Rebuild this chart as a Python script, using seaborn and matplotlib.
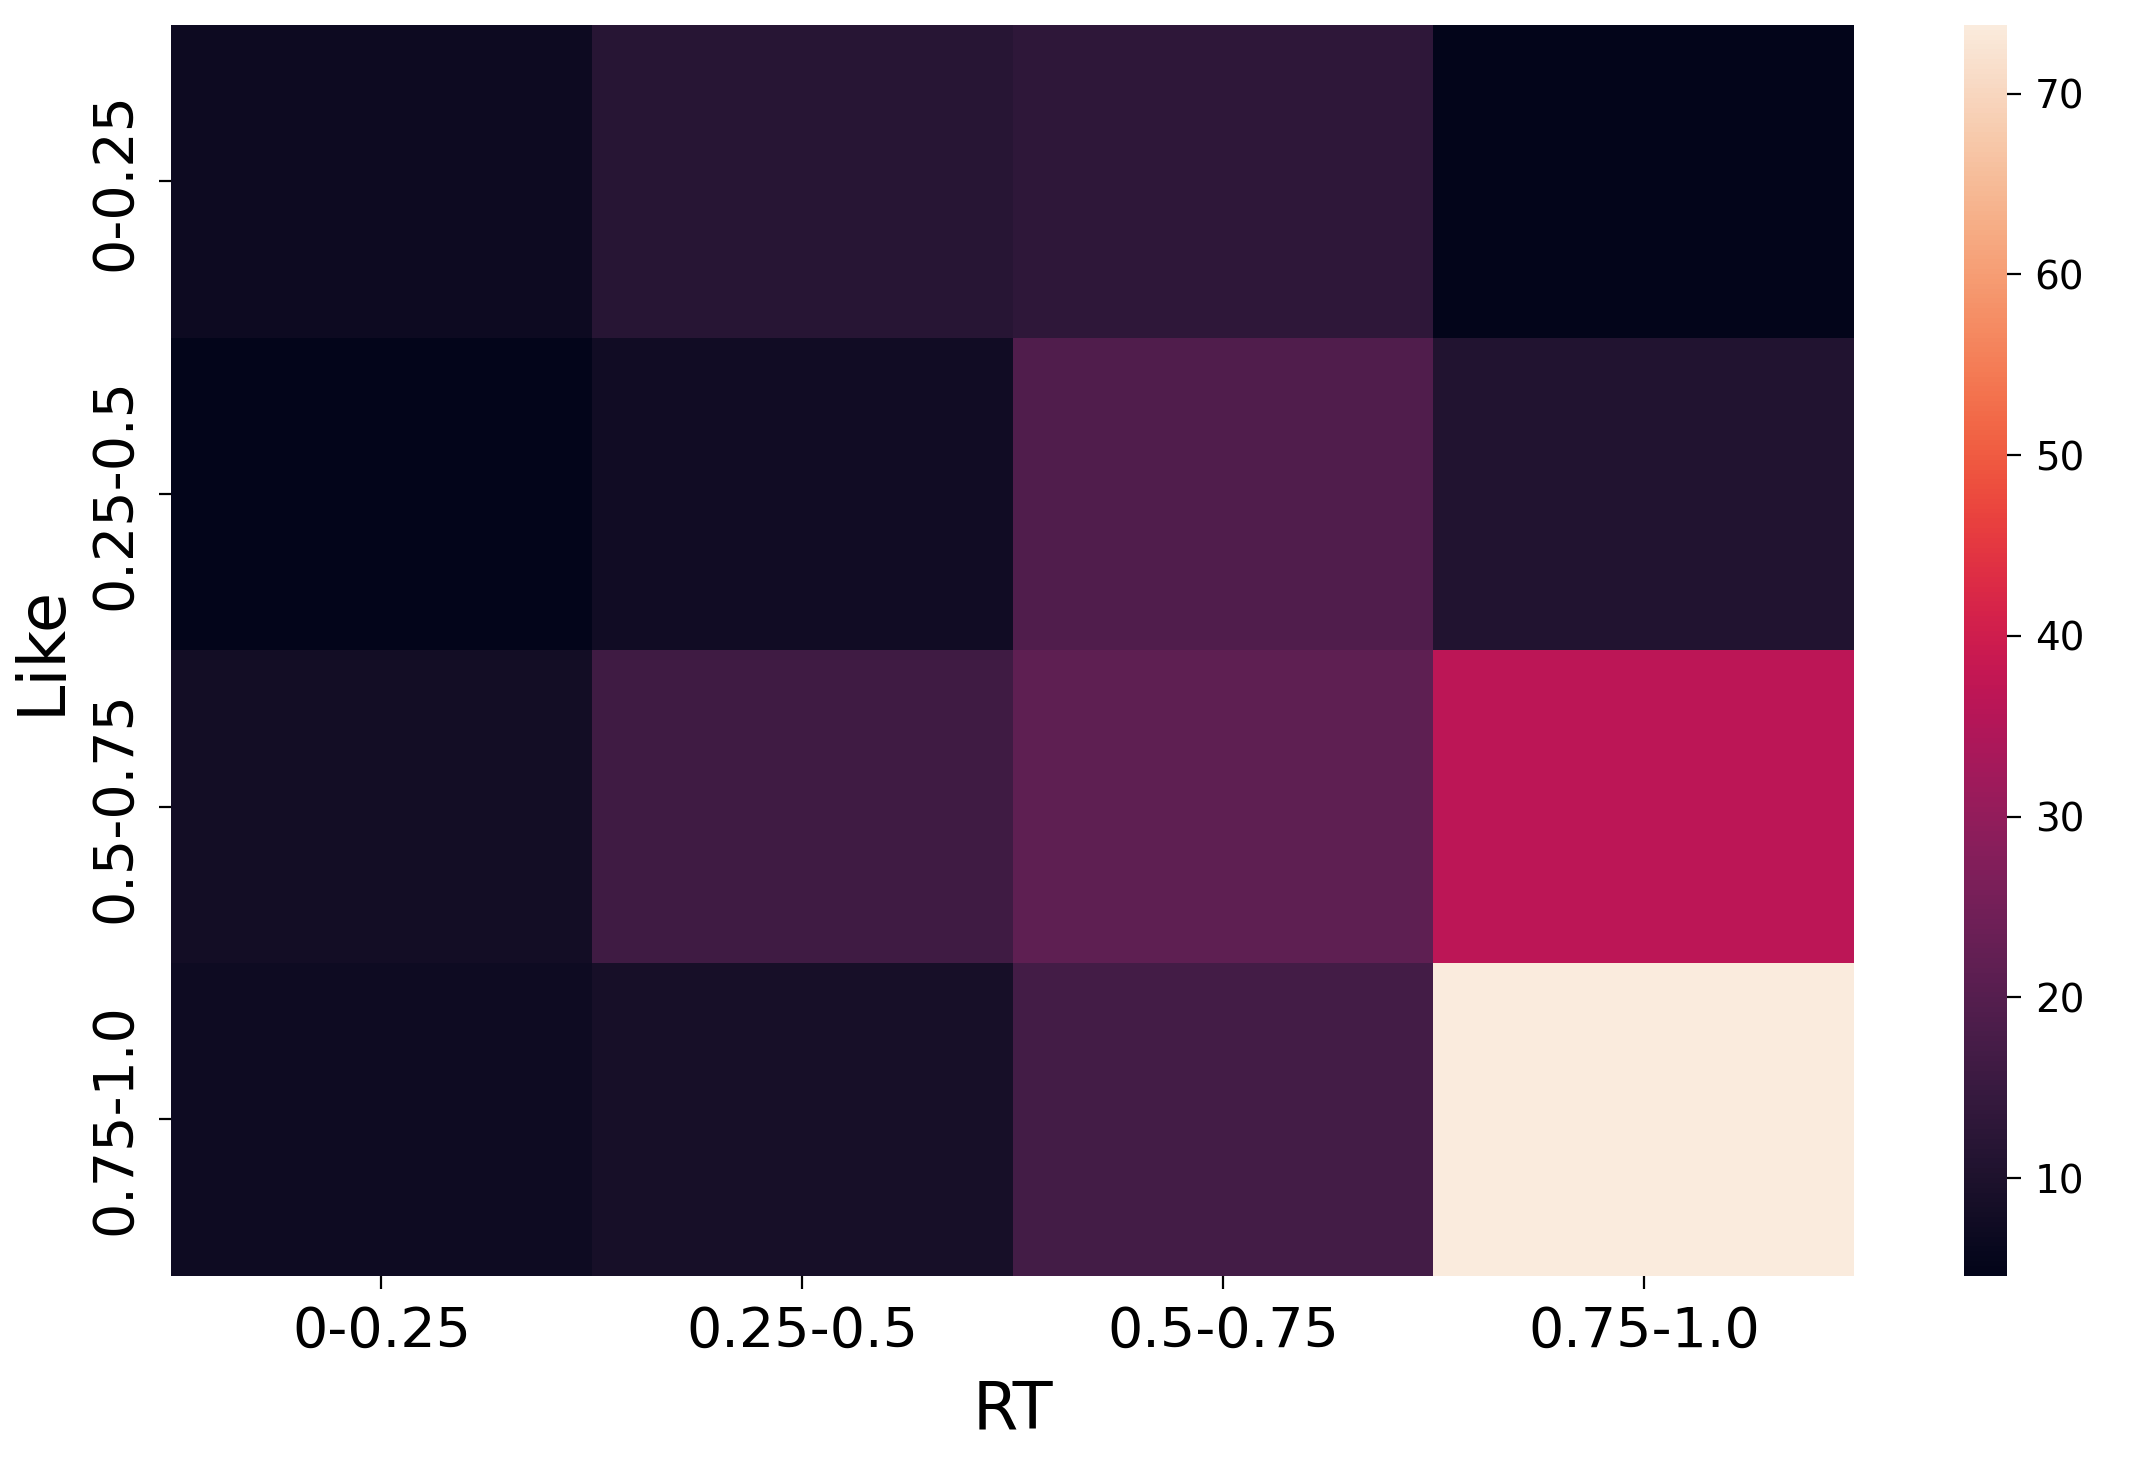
import numpy as np
import pandas as pd
import matplotlib
matplotlib.use("Agg")
import matplotlib.pyplot as plt
import seaborn as sns

rt_bins = ["0-0.25", "0.25-0.5", "0.5-0.75", "0.75-1.0"]
like_bins = ["0-0.25", "0.25-0.5", "0.5-0.75", "0.75-1.0"]
row_0_025 = [7.0, 11.7, 13.0, 4.6]
row_025_05 = [4.6, 7.6, 19.0, 10.8]
row_05_075 = [7.9, 16.0, 21.4, 36.6]
row_075_1 = [7.3, 8.7, 16.8, 73.8]

df = pd.DataFrame([row_0_025, row_025_05, row_05_075, row_075_1],
                  index=like_bins, columns=rt_bins)

fig = plt.figure(figsize=(10.755, 7.315), dpi=200)
ax = fig.add_axes([0.0795, 0.128, 0.7825, 0.855])
cax = fig.add_axes([0.913, 0.128, 0.02, 0.855])

sns.heatmap(df, ax=ax, cbar_ax=cax, cmap="rocket")

ax.set_xlabel("RT", fontsize=23.5, labelpad=7)
ax.set_ylabel("Like", fontsize=23.5, labelpad=5)
ax.tick_params(axis="both", labelsize=20, length=4.5, width=0.8, pad=6)
ax.set_xticklabels(rt_bins, rotation=0)
ax.set_yticklabels(like_bins, rotation=90, va="center")
cax.tick_params(labelsize=14, length=5, width=0.8, pad=5)

fig.savefig("out.png", dpi=200)
